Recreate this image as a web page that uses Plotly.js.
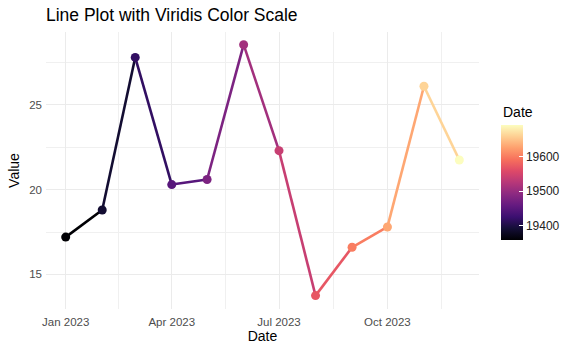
<!DOCTYPE html>
<html>
<head>
<meta charset="utf-8">
<script src="https://cdn.plot.ly/plotly-3.0.1.min.js"></script>
<style>html,body{margin:0;padding:0;background:#fff;}#chart{width:581px;height:355px;}</style>
</head>
<body>
<div id="chart"></div>
<script>
const dates = ['2023-01-01','2023-02-01','2023-03-01','2023-04-01','2023-05-01','2023-06-01',
               '2023-07-01','2023-08-01','2023-09-01','2023-10-01','2023-11-01','2023-12-01'];
const values = [17.2, 18.8, 27.8, 20.3, 20.6, 28.55, 22.3, 13.75, 16.6, 17.8, 26.1, 21.75];
const xTickVals = ['2023-01-01','2023-04-01','2023-07-01','2023-10-01'];
const xTickText = ['Jan 2023','Apr 2023','Jul 2023','Oct 2023'];
const xMinorVals = ['2023-02-15','2023-05-16 12:00','2023-08-16','2023-11-16'];
const yTickVals = [15, 20, 25];
const yMinorVals = [12.5, 17.5, 22.5, 27.5];
const cbTickVals = [19400, 19500, 19600];
const cbTickText = ['19400', '19500', '19600'];

const magma = [
  [0.0,'#000004'],[0.1,'#140e36'],[0.2,'#3b0f70'],[0.3,'#641a80'],[0.4,'#8c2981'],
  [0.5,'#b73779'],[0.6,'#de4968'],[0.7,'#f7705c'],[0.8,'#fe9f6d'],[0.9,'#fecf92'],[1.0,'#fcfdbf']
];
function hex2rgb(h){return [1,3,5].map(i=>parseInt(h.substr(i,2),16));}
function magmaColor(t){
  t=Math.max(0,Math.min(1,t));
  for(let i=0;i<magma.length-1;i++){
    const [a,ca]=magma[i],[b,cb]=magma[i+1];
    if(t<=b){
      const f=(t-a)/(b-a), A=hex2rgb(ca), B=hex2rgb(cb);
      const c=A.map((v,k)=>Math.round(v+(B[k]-v)*f));
      return 'rgb('+c.join(',')+')';
    }
  }
  return magma[magma.length-1][1];
}
const DAY = 86400000;
const dayNums = dates.map(d => Math.round(Date.parse(d+'T00:00:00Z')/DAY));
const cmin = Math.min(...dayNums), cmax = Math.max(...dayNums);

const traces = [];
for (let i = 0; i < dates.length - 1; i++) {
  traces.push({
    x: [dates[i], dates[i+1]], y: [values[i], values[i+1]],
    type: 'scatter', mode: 'lines', showlegend: false, hoverinfo: 'skip',
    line: {color: magmaColor((dayNums[i]-cmin)/(cmax-cmin)), width: 2.6}
  });
}
traces.push({
  x: dates, y: values, type: 'scatter', mode: 'markers', showlegend: false,
  marker: {
    size: 9, color: dayNums, colorscale: magma, cmin: cmin, cmax: cmax,
    showscale: true,
    colorbar: {
      thickness: 22, thicknessmode: 'pixels', len: 115, lenmode: 'pixels',
      xref: 'container', x: 501/581, xanchor: 'left', xpad: 0,
      yref: 'paper', y: (309-182.5)/277, yanchor: 'middle', ypad: 0,
      outlinewidth: 0, tickmode: 'array', tickvals: cbTickVals, ticktext: cbTickText,
      ticks: 'inside', ticklen: 4, tickcolor: '#fff', tickwidth: 1,
      tickfont: {family: 'Liberation Sans, Arial', size: 12, color: '#222'}
    }
  }
});

const xMinDay = cmin - (cmax-cmin)*0.05, xMaxDay = cmax + (cmax-cmin)*0.05;
const layout = {
  width: 581, height: 355,
  margin: {l: 46, r: 102, t: 32, b: 46},
  paper_bgcolor: '#fff', plot_bgcolor: '#fff',
  font: {family: 'Liberation Sans, Arial', color: '#000'},
  title: {text: 'Line Plot with Viridis Color Scale', xref: 'container', x: 46/581, xanchor: 'left',
          yref: 'container', y: 1 - 15/355, yanchor: 'middle',
          font: {family: 'Liberation Sans, Arial', size: 17.5, color: '#000'}},
  annotations: [{
    text: 'Date', xref: 'paper', yref: 'paper', showarrow: false,
    x: (501-46)/(581-46-102), xanchor: 'left',
    y: (355-46-112)/(355-32-46), yanchor: 'middle',
    font: {family: 'Liberation Sans, Arial', size: 14, color: '#000'}
  }],
  xaxis: {
    type: 'date', range: [xMinDay*DAY, xMaxDay*DAY],
    tickmode: 'array', tickvals: xTickVals, ticktext: xTickText,
    showgrid: true, gridcolor: '#EBEBEB', gridwidth: 1, zeroline: false, showline: false, ticks: '',
    tickfont: {size: 11.5, color: '#4D4D4D'}, ticklabelstandoff: 4,
    minor: {tickmode: 'array', tickvals: xMinorVals, showgrid: true, gridcolor: '#F0F0F0', gridwidth: 1, ticks: ''},
    title: {text: 'Date', font: {size: 14, color: '#000'}, standoff: 4}
  },
  yaxis: {
    range: [12.96, 29.3],
    tickmode: 'array', tickvals: yTickVals,
    showgrid: true, gridcolor: '#EBEBEB', gridwidth: 1, zeroline: false, showline: false, ticks: '',
    tickfont: {size: 11.5, color: '#4D4D4D'}, ticklabelstandoff: 3,
    minor: {tickmode: 'array', tickvals: yMinorVals, showgrid: true, gridcolor: '#F0F0F0', gridwidth: 1, ticks: ''},
    title: {text: 'Value', font: {size: 14, color: '#000'}, standoff: 6}
  }
};
Plotly.newPlot('chart', traces, layout, {displayModeBar: false, staticPlot: true});
</script>
</body>
</html>
